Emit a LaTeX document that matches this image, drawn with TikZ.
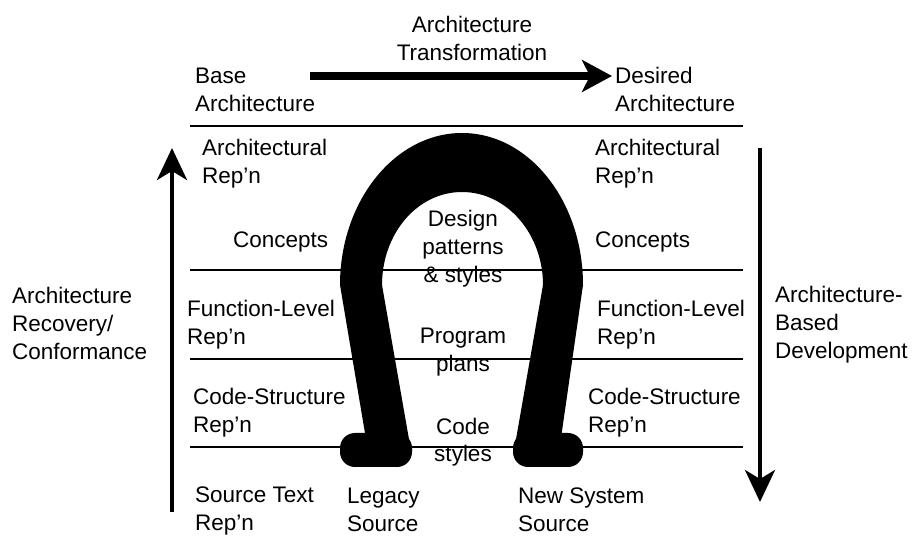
\documentclass[tikz,border=0pt]{standalone}
\usepackage{fontspec}
\setmainfont{Liberation Sans}
\usetikzlibrary{arrows.meta}

\begin{document}
\begin{tikzpicture}[x=1pt,y=-1pt,
    lbl/.style={anchor=base west,align=left,inner sep=0pt,
      font=\fontsize{22.5}{28}\selectfont},
    mid/.style={lbl,anchor=base,align=center},
    level/.style={line width=2.5pt},
    bigarrow/.style={-{Stealth[length=32pt,width=30pt,inset=9pt]},line width=4pt}]
    \useasboundingbox (0,0) rectangle (914,537);
    \def\xl{190}
    \def\xr{743}
    % the four level lines
    \coordinate (l0) at (\xl,126);
    \coordinate (r0) at (\xr,126);
    \coordinate (l1) at (\xl,270);
    \coordinate (r1) at (\xr,270);
    \coordinate (l2) at (\xl,359);
    \coordinate (r2) at (\xr,359);
    \coordinate (l3) at (\xl,447);
    \coordinate (r3) at (\xr,447);
    \draw[level] (l0) -- (r0);
    \draw[level] (l1) -- (r1);
    \draw[level] (l2) -- (r2);
    \draw[level] (l3) -- (r3);
    % horseshoe
    \fill (367,445) -- (340,285) .. controls (340,201) and (395,133) .. (462,133)
      .. controls (529,133) and (583,201) .. (583,285) -- (560,445) -- (515,445)
      -- (543,285) .. controls (543,234) and (507,192) .. (462,192)
      .. controls (417,192) and (382,234) .. (382,285) -- (410,445) -- cycle;
    \fill[rounded corners=15pt] (340,433) rectangle (412,467);
    \fill[rounded corners=15pt] (513,433) rectangle (583,467);
    % labels (placed at the baseline of their last line)
    \node[mid] (transf) at (472,61) {Architecture\\Transformation};
    \node[lbl] (base) at (195,112) {Base\\Architecture};
    \node[lbl] (desired) at (615,112) {Desired\\Architecture};
    \node[lbl] (recov) at (12,360) {Architecture\\Recovery/\\Conformance};
    \node[lbl] (archdev) at (775,359) {Architecture-\\Based\\Development};
    \node[lbl] (archL) at (202,184) {Architectural\\Rep'n};
    \node[lbl] (archR) at (595,184) {Architectural\\Rep'n};
    \node[lbl] (conL) at (233,248) {Concepts};
    \node[lbl] (conR) at (595,248) {Concepts};
    \node[lbl] (funL) at (187,345) {Function-Level\\Rep'n};
    \node[lbl] (funR) at (597,345) {Function-Level\\Rep'n};
    \node[lbl] (codeL) at (193,433) {Code-Structure\\Rep'n};
    \node[lbl] (codeR) at (588,433) {Code-Structure\\Rep'n};
    \node[lbl] (srcL) at (195,530) {Source Text\\Rep'n};
    \node[lbl] (legacy) at (347,531) {Legacy\\Source};
    \node[lbl] (newsys) at (518,531) {New System\\Source};
    \node[mid] (design) at (463,283) {Design\\patterns\\\& styles};
    \node[mid] (plans) at (463,372) {Program\\plans};
    \node[mid] (codesty) at (463,462) {Code\\styles};
    % arrows
    \coordinate (trS) at (310,76);
    \coordinate (trE) at (612,76);
    \draw[-{Stealth[length=30pt,width=32pt,inset=8pt]},line width=8pt] (trS) -- (trE);
    \coordinate (upS) at (172,512);
    \coordinate (upE) at (172,148);
    \draw[bigarrow] (upS) -- (upE);
    \coordinate (dnS) at (760,148);
    \coordinate (dnE) at (760,502);
    \draw[bigarrow] (dnS) -- (dnE);
\end{tikzpicture}
\end{document}
